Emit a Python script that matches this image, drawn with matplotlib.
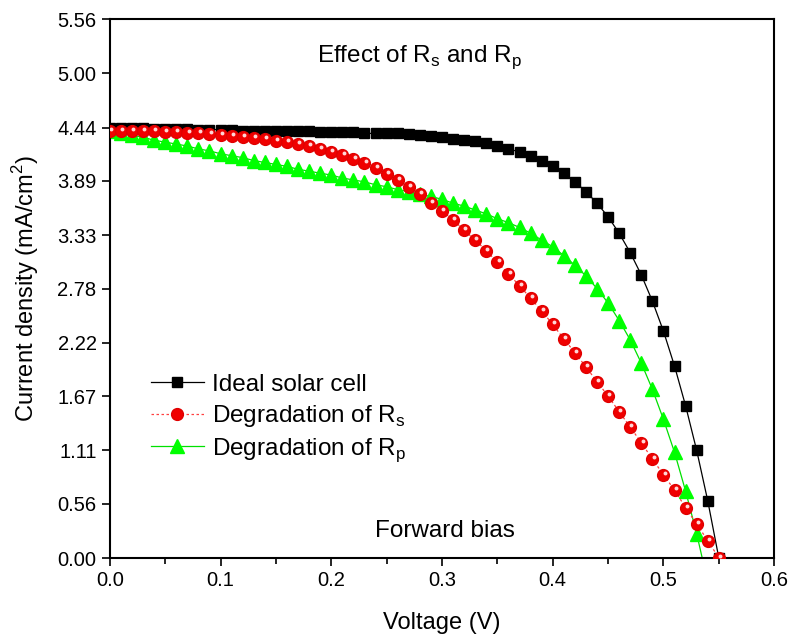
import matplotlib
matplotlib.use("Agg")
import matplotlib.pyplot as plt
from matplotlib.transforms import offset_copy
import numpy as np

plt.rcParams['font.family'] = ['Liberation Sans', 'DejaVu Sans']
plt.rcParams['mathtext.fontset'] = 'custom'
plt.rcParams['mathtext.rm'] = 'Liberation Sans'

# voltage steps (V)
v_ideal = [i / 100 for i in range(56)]
v_rs = [i / 100 for i in range(56)]
v_rp = [i / 100 for i in range(55)]

# current density (mA/cm2)
j_ideal = [4.44, 4.44, 4.44, 4.44, 4.43, 4.43, 4.43, 4.43, 4.42, 4.42,
           4.42, 4.42, 4.41, 4.41, 4.41, 4.40, 4.40, 4.40, 4.40, 4.39,
           4.39, 4.39, 4.39, 4.38, 4.38, 4.38, 4.38, 4.37, 4.36, 4.35,
           4.34, 4.32, 4.31, 4.30, 4.28, 4.25, 4.22, 4.19, 4.15, 4.10,
           4.04, 3.97, 3.88, 3.78, 3.66, 3.52, 3.35, 3.15, 2.92, 2.65,
           2.34, 1.98, 1.57, 1.11, 0.59, 0.00]
j_rs = [4.41, 4.40, 4.40, 4.40, 4.40, 4.39, 4.39, 4.38, 4.38, 4.37,
        4.36, 4.35, 4.34, 4.33, 4.32, 4.30, 4.29, 4.27, 4.25, 4.22,
        4.19, 4.16, 4.12, 4.07, 4.02, 3.96, 3.90, 3.83, 3.75, 3.66,
        3.58, 3.49, 3.38, 3.28, 3.17, 3.05, 2.93, 2.81, 2.68, 2.55,
        2.41, 2.26, 2.12, 1.97, 1.82, 1.67, 1.51, 1.35, 1.19, 1.02,
        0.86, 0.70, 0.52, 0.35, 0.18, 0.00]
j_rp = [4.40, 4.38, 4.36, 4.34, 4.31, 4.29, 4.27, 4.25, 4.22, 4.20,
        4.17, 4.15, 4.13, 4.10, 4.08, 4.06, 4.04, 4.01, 3.99, 3.97,
        3.95, 3.92, 3.90, 3.88, 3.85, 3.83, 3.80, 3.78, 3.75, 3.73,
        3.70, 3.66, 3.63, 3.59, 3.55, 3.50, 3.46, 3.41, 3.35, 3.28,
        3.21, 3.12, 3.02, 2.91, 2.78, 2.63, 2.45, 2.25, 2.01, 1.74,
        1.43, 1.09, 0.69, 0.25, -0.25]

yticks = [0.00, 0.56, 1.11, 1.67, 2.22, 2.78, 3.33, 3.89, 4.44, 5.00, 5.56]
ytick_labels = ['0.00', '0.56', '1.11', '1.67', '2.22', '2.78', '3.33',
                '3.89', '4.44', '5.00', '5.56']

fig = plt.figure(figsize=(7.9, 6.36), dpi=100)
ax = fig.add_axes([0.139, 0.1226, 0.841, 0.8475])

ax.plot(v_ideal, j_ideal, color='black', lw=0.9, marker='s', ms=7.5,
        mfc='black', mec='black', label='Ideal solar cell', zorder=3)
ax.plot(v_rs, j_rs, color='#ff4040', lw=0.9, ls=(0, (2, 2)), marker='o', ms=8.5,
        mfc='#f00000', mec='#e00000', label='Degradation of R$_\\mathregular{s}$', zorder=4)
# little highlight on the balls
shine = offset_copy(ax.transData, fig=fig, x=1.2, y=2.0, units='dots')
ax.plot(v_rs, j_rs, ls='none', marker='o', ms=2.8, mfc='#ffd6d6', mec='none',
        transform=shine, zorder=5)
ax.plot(v_rp, j_rp, color='#00e000', lw=0.9, marker='^', ms=9.5,
        mfc='#00ff00', mec='#00ff00', label='Degradation of R$_\\mathregular{p}$', zorder=2)

ax.set_xlim(0, 0.6)
ax.set_ylim(0, 5.56)
ax.set_xticks(np.arange(0, 0.61, 0.1))
ax.set_xticks(np.arange(0.05, 0.6, 0.1), minor=True)
ax.set_yticks(yticks)
ax.set_yticklabels(ytick_labels)
ax.tick_params(axis='both', which='major', direction='out', length=6, width=1.2,
               labelsize=14.5)
ax.tick_params(axis='x', which='minor', direction='out', length=4, width=1.2)
for s in ax.spines.values():
    s.set_linewidth(1.5)

ax.set_xlabel('Voltage (V)', fontsize=17, labelpad=16)
ax.set_ylabel('Current density (mA/cm$^\\mathregular{2}$)', fontsize=17, labelpad=12)

ax.text(0.28, 5.17, 'Effect of R$_\\mathregular{s}$ and R$_\\mathregular{p}$',
        fontsize=17.5, ha='center', va='center')
ax.text(0.303, 0.28, 'Forward bias', fontsize=17.5, ha='center', va='center')

ax.legend(loc='upper left', bbox_to_anchor=(0.047, 0.36), frameon=False,
          fontsize=17.5, handlelength=2.2, handletextpad=0.3, labelspacing=0.3,
          borderaxespad=0)

fig.savefig('out.png', dpi=100)
